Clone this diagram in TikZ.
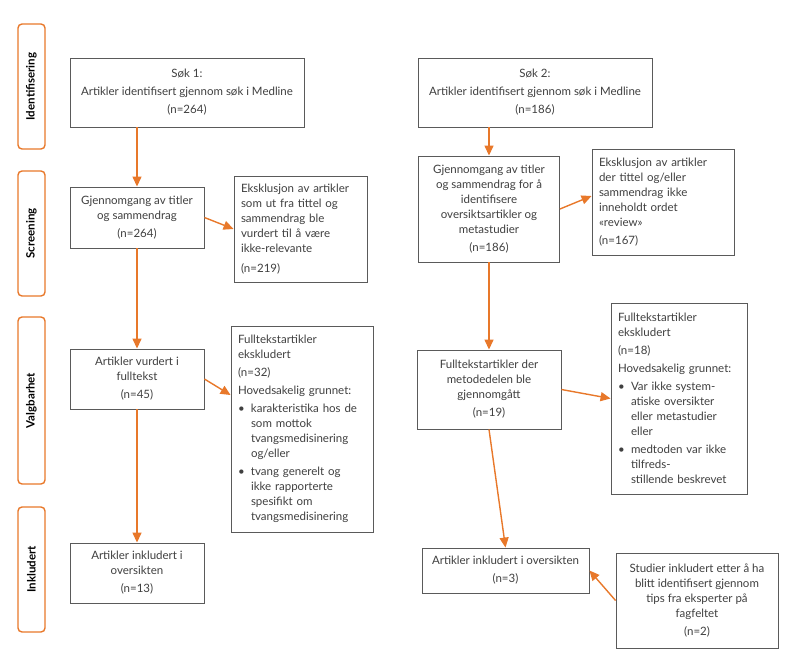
\documentclass[tikz,border=0pt]{standalone}
\usepackage{fontspec}
\setmainfont{Lato}
\usepackage{tikz}
\usetikzlibrary{positioning}
\usetikzlibrary{arrows.meta}
\definecolor{flowOrange}{HTML}{E8782A}
\definecolor{boxGray}{HTML}{5A5A5A}
\definecolor{txtGray}{HTML}{404040}
\newcommand{\bul}{\makebox[13pt][l]{•}}
\newcommand{\ind}{\hspace*{13pt}}

\begin{document}
\begin{tikzpicture}[x=1pt, y=-1pt,
    box/.style={draw=boxGray, line width=0.9pt, fill=white, text=txtGray,
        font=\fontsize{11.5}{15}\selectfont, inner sep=0pt, align=center},
    leftbox/.style={box, align=left, inner xsep=7pt},
    phase/.style={draw=flowOrange, line width=1.4pt, rounded corners=4pt,
        minimum width=27pt, font=\fontsize{11.5}{12}\selectfont\bfseries},
    flow/.style={-{Triangle[length=10pt,width=9pt]}, flowOrange, line width=1.4pt}]
    \useasboundingbox (0,0) rectangle (800,658);

    % Phase labels
    \node[phase, minimum height=125pt] (pIdent) at (31.5,86.5) {\rotatebox{90}{Identifisering}};
    \node[phase, minimum height=125pt] (pScreen) at (31.5,233.5) {\rotatebox{90}{Screening}};
    \node[phase, minimum height=167pt] (pValg) at (31.5,400.5) {\rotatebox{90}{Valgbarhet}};
    \node[phase, minimum height=125pt] (pInkl) at (31.5,569.5) {\rotatebox{90}{Inkludert}};

    % Search 1
    \node[box, minimum width=234pt, minimum height=69pt] (sok1) at (187,92.5)
        {Søk 1:\\[3pt]Artikler identifisert gjennom søk i Medline\\[3pt](n=264)};
    \node[box, minimum width=134pt, minimum height=61pt] (gjen1) at (137,217.5)
        {Gjennomgang av titler\\og sammendrag\\[3pt](n=264)};
    \node[leftbox, text width=119pt, minimum height=106pt] (eks1) at (300.5,229)
        {Eksklusjon av artikler\\som ut fra tittel og\\sammendrag ble\\vurdert til å være\\ikke-relevante\\[5pt](n=219)};
    \node[box, minimum width=134pt, minimum height=60pt] (vurd1) at (137,379)
        {Artikler vurdert i\\fulltekst\\[3pt](n=45)};
    \node[leftbox, text width=128pt, minimum height=206pt] (full1) at (302,429)
        {Fulltekstartikler\\ekskludert\\[3pt](n=32)\\[3pt]Hovedsakelig grunnet:\\[3pt]
         \bul karakteristika hos de\\\ind som mottok\\\ind tvangsmedisinering\\\ind og/eller\\[3pt]
         \bul tvang generelt og\\\ind ikke rapporterte\\\ind spesifikt om\\\ind tvangsmedisinering};
    \node[box, minimum width=134pt, minimum height=60pt] (inkl1) at (137,573)
        {Artikler inkludert i\\oversikten\\[3pt](n=13)};

    % Search 2
    \node[box, minimum width=234pt, minimum height=69pt] (sok2) at (535,92.5)
        {Søk 2:\\[3pt]Artikler identifisert gjennom søk i Medline\\[3pt](n=186)};
    \node[box, minimum width=141pt, minimum height=106pt] (gjen2) at (489,209)
        {Gjennomgang av titler\\og sammendrag for å\\identifisere\\oversiktsartikler og\\metastudier\\[3pt](n=186)};
    \node[leftbox, text width=128pt, minimum height=106pt] (eks2) at (663,202)
        {Eksklusjon av artikler\\der tittel og/eller\\sammendrag ikke\\inneholdt ordet\\«review»\\[3pt](n=167)};
    \node[box, minimum width=144pt, minimum height=79pt] (full2) at (489,389.5)
        {Fulltekstartikler der\\metodedelen ble\\gjennomgått\\[3pt](n=19)};
    \node[leftbox, text width=122pt, minimum height=191pt] (utel2) at (679,398.5)
        {Fulltekstartikler\\ekskludert\\[3pt](n=18)\\[3pt]Hovedsakelig grunnet:\\[3pt]
         \bul Var ikke system-\\\ind atiske oversikter\\\ind eller metastudier\\\ind eller\\[3pt]
         \bul medtoden var ikke\\\ind tilfreds-\\\ind stillende beskrevet};
    \node[box, minimum width=167pt, minimum height=45pt] (inkl2) at (505.5,570.5)
        {Artikler inkludert i oversikten\\[3pt](n=3)};
    \node[box, minimum width=162pt, minimum height=95pt] (tips2) at (697,600.5)
        {Studier inkludert etter å ha\\blitt identifisert gjennom\\tips fra eksperter på\\fagfeltet\\[3pt](n=2)};

    % Connectors
    \draw[flow] (gjen1.north |- sok1.south) -- (gjen1.north);
    \draw[flow] (gjen1.east) -- (eks1.west);
    \draw[flow] (gjen1.south) -- (vurd1.north);
    \draw[flow] (vurd1.east) -- ([yshift=34pt]full1.west);
    \draw[flow] (vurd1.south) -- (inkl1.north);
    \draw[flow] (gjen2.north |- sok2.south) -- (gjen2.north);
    \draw[flow] (gjen2.east) -- ([yshift=6pt]eks2.west);
    \draw[flow] (gjen2.south) -- (full2.north);
    \draw[flow] (full2.east) -- (utel2.west);
    \draw[flow] (full2.south) -- (inkl2.north);
    \draw[flow] (tips2.west) -- (inkl2.east);
\end{tikzpicture}
\end{document}
